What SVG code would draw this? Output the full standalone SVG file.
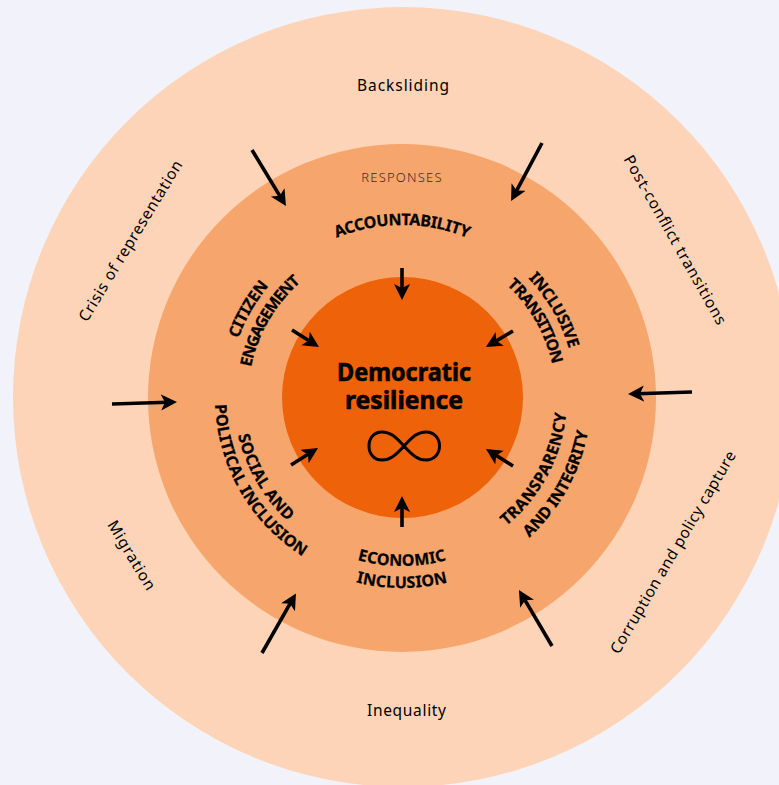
<svg xmlns="http://www.w3.org/2000/svg" width="779" height="785" viewBox="0 0 779 785">
<style>
text{font-family:"Noto Sans","Liberation Sans",sans-serif;fill:#000}
.o{font-size:15.5px;text-anchor:middle}
.b{font-size:16px;font-weight:700;text-anchor:middle;stroke:#000;stroke-width:.25px}
.r{font-size:13px;font-weight:300;text-anchor:middle;fill:#3a2a20;letter-spacing:1.2px}
.c{font-size:25px;font-weight:700;text-anchor:middle;stroke:#000;stroke-width:.6px}
.a{stroke:#000;stroke-width:3.6;fill:none;marker-end:url(#h)}
</style>
<defs>
<marker id="h" markerUnits="userSpaceOnUse" markerWidth="20" markerHeight="20" refX="7" refY="8" orient="auto"><path d="M0 0L16 8L0 16L4 8Z" fill="#000"/></marker>
<path id="t154" d="M-154 0A154 154 0 0 1 154 0"/>
<path id="t174" d="M-174 0A174 174 0 0 1 174 0"/>
<path id="t173" d="M-173 0A173 173 0 0 1 173 0"/>
<path id="b165" d="M-165 0A165 165 0 0 0 165 0"/>
<path id="b168" d="M-168 0A168 168 0 0 0 168 0"/>
<path id="b187" d="M-187 0A187 187 0 0 0 187 0"/>
<path id="b189" d="M-189 0A189 189 0 0 0 189 0"/>
<path id="b190" d="M-190 0A190 190 0 0 0 190 0"/>
</defs>
<rect width="779" height="785" fill="#f2f3fa"/>
<g id="outer">
<circle cx="403" cy="397" r="390" fill="#fdd4b7"/>
<text class="o" x="403" y="91" textLength="92">Backsliding</text>
<text class="o" x="406.5" y="716" textLength="79">Inequality</text>
<text class="o" transform="translate(135 243.6) rotate(-58.7)" textLength="185">Crisis of representation</text>
<text class="o" transform="translate(670.5 242.5) rotate(60.5)" textLength="192">Post-conflict transitions</text>
<text class="o" transform="translate(677.5 555) rotate(-59.5)" textLength="232">Corruption and policy capture</text>
<text class="o" transform="translate(127 558) rotate(59)" textLength="78">Migration</text>
</g>
<g id="responses">
<circle cx="402" cy="398" r="254" fill="#f6a66c"/>
<text class="r" x="402" y="182">RESPONSES</text>
<text class="b" transform="translate(402 398)" letter-spacing="-.33"><textPath href="#t173" startOffset="50%">ACCOUNTABILITY</textPath></text>
<text class="b" transform="translate(402 398) rotate(-60)" letter-spacing="-.33"><textPath href="#t174" startOffset="50%">CITIZEN</textPath></text>
<text class="b" transform="translate(402 398) rotate(-60)" letter-spacing="-1.2"><textPath href="#t154" startOffset="50%">ENGAGEMENT</textPath></text>
<text class="b" transform="translate(402 398) rotate(60)" letter-spacing="-.33"><textPath href="#t174" startOffset="50%">INCLUSIVE</textPath></text>
<text class="b" transform="translate(402 398) rotate(60)" letter-spacing="-.8"><textPath href="#t154" startOffset="50%">TRANSITION</textPath></text>
<text class="b" transform="translate(402 398) rotate(-62)" letter-spacing=".5"><textPath href="#b165" startOffset="50%">TRANSPARENCY</textPath></text>
<text class="b" transform="translate(402 398) rotate(-61)" letter-spacing="-.15"><textPath href="#b189" startOffset="50%">AND INTEGRITY</textPath></text>
<text class="b" transform="translate(402 398)" letter-spacing=".2"><textPath href="#b168" startOffset="50%">ECONOMIC</textPath></text>
<text class="b" transform="translate(402 398)" letter-spacing=".2"><textPath href="#b190" startOffset="50%">INCLUSION</textPath></text>
<text class="b" transform="translate(402 398) rotate(60)" letter-spacing=".3"><textPath href="#b168" startOffset="50%">SOCIAL AND</textPath></text>
<text class="b" transform="translate(402 398) rotate(60)" letter-spacing=".2"><textPath href="#b187" startOffset="50%">POLITICAL INCLUSION</textPath></text>
</g>
<g id="core">
<circle cx="402.5" cy="397.5" r="120.5" fill="#ee6209"/>
<text class="c" x="404" y="381" textLength="134" lengthAdjust="spacingAndGlyphs">Democratic</text>
<text class="c" x="404" y="408.5" textLength="118" lengthAdjust="spacingAndGlyphs">resilience</text>
<path d="M404 446C395 436 390 432 382 432C374 432 369 438 369 446C369 454 374 460 382 460C390 460 395 456 404 446C413 436 418 432 426 432C434 432 439.500 438 439.500 446C439.500 454 434 460 426 460C418 460 413 456 404 446Z" fill="none" stroke="#000" stroke-width="3"/>
</g>
<g id="connectors">
<path class="a" d="M252 150L281.300 198.400"/>
<path class="a" d="M542 143L515.300 193.100"/>
<path class="a" d="M112 404L168 402.200"/>
<path class="a" d="M692 392L637 393.800"/>
<path class="a" d="M262 653L291.500 601.200"/>
<path class="a" d="M552 646L523.500 597.700"/>
<path class="a" d="M402 268L402 291"/>
<path class="a" d="M292 330L311.400 342.200"/>
<path class="a" d="M513 331L493.700 342.400"/>
<path class="a" d="M291 465L310.400 452.800"/>
<path class="a" d="M513 466L493.600 453.800"/>
<path class="a" d="M402 527L402 505"/>
</g>
</svg>
